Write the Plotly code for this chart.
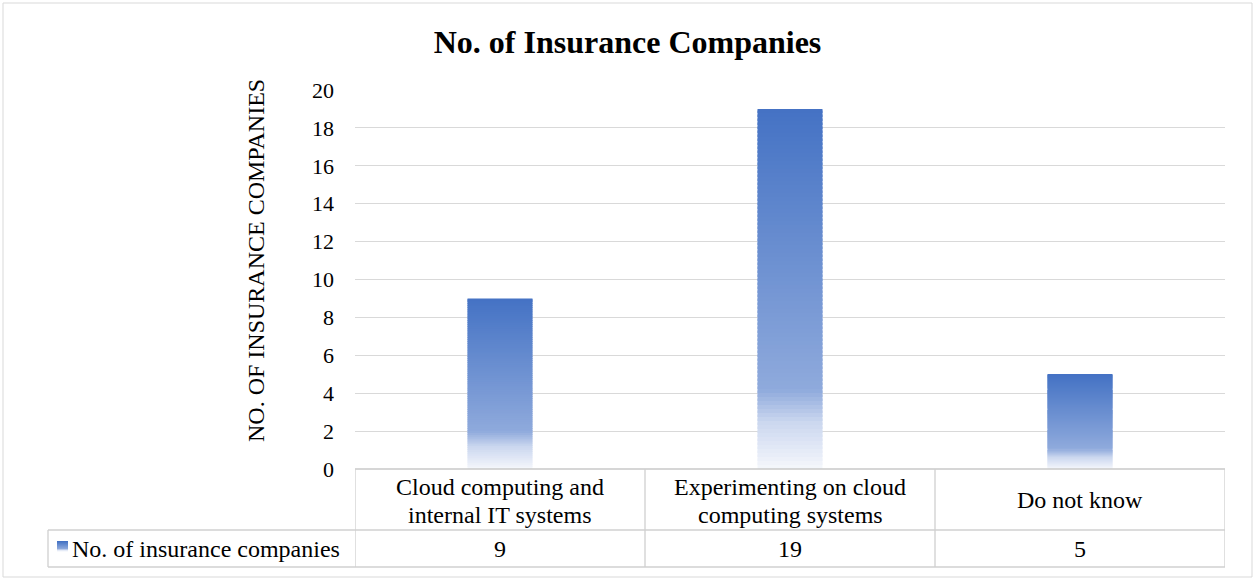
import plotly.graph_objects as go

# ---- data ----
categories = ["Cloud computing and<br>internal IT systems",
              "Experimenting on cloud<br>computing systems",
              "Do not know"]
values = [9, 19, 5]
series_name = "No. of insurance companies"
chart_title = "No. of Insurance Companies"
y_title = "NO. OF INSURANCE COMPANIES"
y_ticks = list(range(0, 21, 2))

# ---- layout geometry (pixels) ----
W, H = 1255, 579
L, R, T, B = 355, 1225, 90, 469
FONT = "Liberation Serif, Times New Roman, serif"
GRID = "#D9D9D9"


def px(x):
    return (x - L) / (R - L)


def py(y):
    return (B - y) / (B - T)


# gradient: fraction from top of the bar -> colour
STOPS = [(0.0, (68, 114, 196)), (0.78, (143, 170, 220)),
         (0.87, (203, 215, 239)), (1.0, (245, 247, 252))]


def grad(t):
    for (t0, c0), (t1, c1) in zip(STOPS[:-1], STOPS[1:]):
        if t <= t1:
            f = (t - t0) / (t1 - t0) if t1 > t0 else 0
            return "rgb(%d,%d,%d)" % tuple(round(a + (b - a) * f) for a, b in zip(c0, c1))
    return "rgb(%d,%d,%d)" % STOPS[-1][1]


N = 90
xs, ys, bases, cols = [], [], [], []
for cat, v in zip(categories, values):
    step = v / N
    for i in range(N):
        b = step * i
        top = min(v, b + step * 1.6)
        xs.append(cat)
        bases.append(b)
        ys.append(top - b)
        frac_top = 1 - (i + 0.5) / N
        cols.append(grad(frac_top))

fig = go.Figure()
fig.add_trace(go.Bar(x=xs, y=ys, base=bases, name=series_name,
                     marker=dict(color=cols, line=dict(width=0)),
                     width=0.224, hoverinfo="skip", showlegend=False))

shapes = []
# outer border
shapes.append(dict(type="rect", xref="paper", yref="paper",
                   x0=px(3), x1=px(1252), y0=py(3), y1=py(577),
                   line=dict(color=GRID, width=1), layer="below"))
# table horizontal lines
line_c = "#D0D0D0"
shapes.append(dict(type="line", xref="paper", yref="paper", x0=px(L), x1=px(R),
                   y0=py(B), y1=py(B), line=dict(color="#C8C8C8", width=1.3)))
for yy in (530, 567):
    shapes.append(dict(type="line", xref="paper", yref="paper", x0=px(48), x1=px(R),
                       y0=py(yy), y1=py(yy), line=dict(color=line_c, width=1.3)))
shapes.append(dict(type="line", xref="paper", yref="paper", x0=px(48), x1=px(48),
                   y0=py(530), y1=py(567), line=dict(color=line_c, width=1.3)))
# table vertical lines at category boundaries
for k in range(len(categories) + 1):
    shapes.append(dict(type="line", xref="x", yref="paper", x0=k - 0.5, x1=k - 0.5,
                       y0=py(B), y1=py(567), line=dict(color=line_c, width=1.3)))
# legend key (small gradient square)
nk = 10
for i in range(nk):
    y0 = 541 + i
    shapes.append(dict(type="rect", xref="paper", yref="paper",
                       x0=px(57), x1=px(68), y0=py(y0 + 1.3), y1=py(y0),
                       fillcolor=grad(i / (nk - 1) * 0.95), line=dict(width=0)))

TXT = 24
annotations = []
for cat, v in zip(categories, values):
    lines = cat.split("<br>")
    if len(lines) == 1:
        ys_lines = [500]
    else:
        ys_lines = [487, 515]
    for ln, yl in zip(lines, ys_lines):
        annotations.append(dict(x=cat, xref="x", y=py(yl), yref="paper", text=ln,
                                showarrow=False, font=dict(size=TXT, color="#000", family=FONT),
                                xanchor="center", yanchor="middle", align="center"))
    annotations.append(dict(x=cat, xref="x", y=py(549), yref="paper", text=str(v),
                            showarrow=False, font=dict(size=TXT, color="#000", family=FONT),
                            xanchor="center", yanchor="middle"))
annotations.append(dict(x=px(70), xref="paper", y=py(549), yref="paper", text=series_name,
                        showarrow=False, font=dict(size=TXT, color="#000", family=FONT),
                        xanchor="left", yanchor="middle"))
annotations.append(dict(x=px(256), xref="paper", y=py(261), yref="paper", text=y_title,
                        textangle=-90, showarrow=False,
                        font=dict(size=24, color="#000", family=FONT),
                        xanchor="center", yanchor="middle"))

fig.update_layout(
    width=W, height=H,
    margin=dict(l=L, r=W - R, t=T, b=H - B, pad=0),
    paper_bgcolor="white", plot_bgcolor="white",
    barmode="overlay",
    title=dict(text="<b>%s</b>" % chart_title, x=0.5, xref="container", xanchor="center",
               y=1 - 42 / H, yref="container", yanchor="middle",
               font=dict(size=32, color="#000", family=FONT)),
    xaxis=dict(type="category", categoryarray=categories, range=[-0.5, 2.5],
               showticklabels=False, showgrid=False, zeroline=False, showline=False,
               ticks=""),
    yaxis=dict(range=[0, 20], tickvals=y_ticks, showgrid=True, gridcolor=GRID, gridwidth=1.3,
               zeroline=False, showline=False, ticks="", ticklabelstandoff=20,
               tickfont=dict(size=22, color="#000", family=FONT)),
    shapes=shapes, annotations=annotations,
    font=dict(family=FONT, color="#000"),
)

fig.write_html("out.html")
